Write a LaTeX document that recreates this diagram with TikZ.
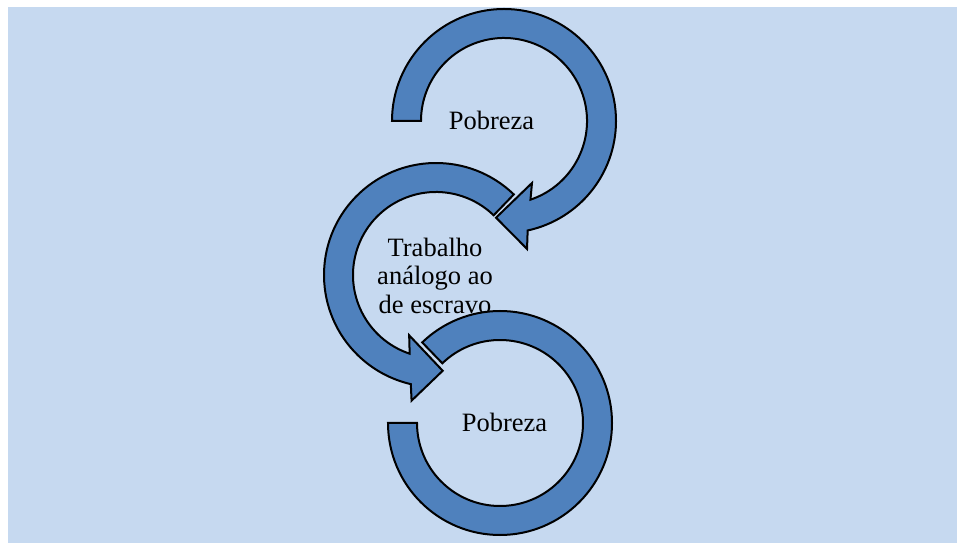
\documentclass[tikz,border=0pt]{standalone}
\usepackage{fontspec}
\setmainfont{Liberation Serif}
\usepackage{tikz}
\usetikzlibrary{calc}

\definecolor{fundo}{RGB}{198,217,240}
\definecolor{seta}{RGB}{79,129,189}

\tikzset{
  ciclo/.style={draw=black, fill=seta, line width=2pt, line join=miter},
  rotulo/.style={font=\fontsize{26.5}{28.5}\selectfont, align=center, inner sep=0pt},
}

\begin{document}
\begin{tikzpicture}[x=1pt, y=1pt]
\useasboundingbox (0,0) rectangle (957,543);
\fill[fundo] (8,0) rectangle (957,536);
\coordinate (T) at (504,422);
\coordinate (M) at (436,268);
\coordinate (B) at (500,120);
% seta de cima
\draw[ciclo] ($(T)+(180:112)$) arc[start angle=180, end angle=-77.8, radius=112]
  -- ($(T)+(-79.8:130)$) -- ($(T)+(-94.7:97)$) -- ($(T)+(-65.7:68)$) -- ($(T)+(-71.4:83)$)
  arc[start angle=-71.4, end angle=180, radius=83] -- cycle;
\node[rotulo, anchor=base] (pobreza1) at (491.5,413) {Pobreza};
% seta do meio
\draw[ciclo] ($(M)+(46:112)$) arc[start angle=46, end angle=257, radius=112]
  -- ($(M)+(259:128)$) -- ($(M)+(274:96)$) -- ($(M)+(246:66)$) -- ($(M)+(251.5:83)$)
  arc[start angle=251.5, end angle=46, radius=83] -- cycle;
\node[rotulo] (trabalho) at (435,267.5) {Trabalho\\análogo ao\\de escravo};
% arco de baixo
\draw[ciclo] ($(B)+(180:112)$) arc[start angle=180, end angle=494, radius=112]
  -- ($(B)+(134:83)$) arc[start angle=134, end angle=-180, radius=83] -- cycle;
\node[rotulo, anchor=base] (pobreza2) at (504.5,111) {Pobreza};
\end{tikzpicture}
\end{document}
